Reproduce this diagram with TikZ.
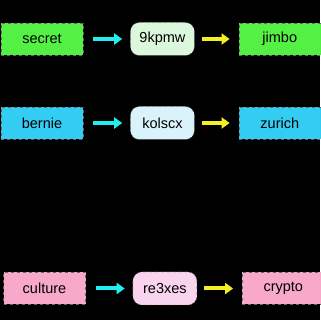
\documentclass[tikz,border=0pt]{standalone}
\usepackage{fontspec}
\setsansfont{Liberation Sans}
\usepackage{tikz}
\usetikzlibrary{arrows.meta, positioning}
\definecolor{verdeFuerte}{HTML}{55F044}
\definecolor{verdeClaro}{HTML}{DCF8DC}
\definecolor{azulFuerte}{HTML}{33CCF2}
\definecolor{azulClaro}{HTML}{DAF3FA}
\definecolor{rosaFuerte}{HTML}{F8A8C8}
\definecolor{rosaClaro}{HTML}{F8D4EE}
\definecolor{flechaCian}{HTML}{22EEF2}
\definecolor{flechaAmarilla}{HTML}{F2F022}

\begin{document}
\begin{tikzpicture}[x=1pt, y=1pt, font=\sffamily\fontsize{14.5}{16}\selectfont,
        caja/.style={draw=black!60, dashed, thin, minimum width=82pt,
            minimum height=32pt, align=center, inner sep=0pt},
        clave/.style={draw=black!60, dashed, thin, rounded corners=9pt,
            minimum width=64pt, minimum height=33pt, align=center, inner sep=0pt},
        fc/.style={-{Triangle[length=8pt,width=11pt]}, line width=4pt, flechaCian,
            shorten <=10pt, shorten >=8pt},
        fa/.style={-{Triangle[length=8pt,width=11pt]}, line width=4pt, flechaAmarilla,
            shorten <=7pt, shorten >=9pt}]
        \fill[black] (0,0) rectangle (320,320);
        \useasboundingbox (0,0) rectangle (320,320);
        % fila 1
        \node[caja, fill=verdeFuerte] (s1) at (42,281) {secret};
        \node[clave, fill=verdeClaro, right=47pt of s1] (k1) {9kpmw};
        \node[caja, fill=verdeFuerte, right=44pt of k1] (d1) {jimbo};
        % fila 2
        \node[caja, fill=azulFuerte] (s2) at (42,197) {bernie};
        \node[clave, fill=azulClaro, right=47pt of s2] (k2) {kolscx};
        \node[caja, fill=azulFuerte, right=44pt of k2] (d2) {zurich};
        % fila 3
        \node[caja, fill=rosaFuerte] (s3) at (44.5,31.5) {culture};
        \node[clave, fill=rosaClaro, right=47pt of s3] (k3) {re3xes};
        \node[caja, fill=rosaFuerte, right=45pt of k3] (d3) {crypto};
        \foreach \i in {1,2,3} {
            \draw[fc] (s\i) -- (k\i);
            \draw[fa] (k\i) -- (d\i);
        }
    \end{tikzpicture}
\end{document}
